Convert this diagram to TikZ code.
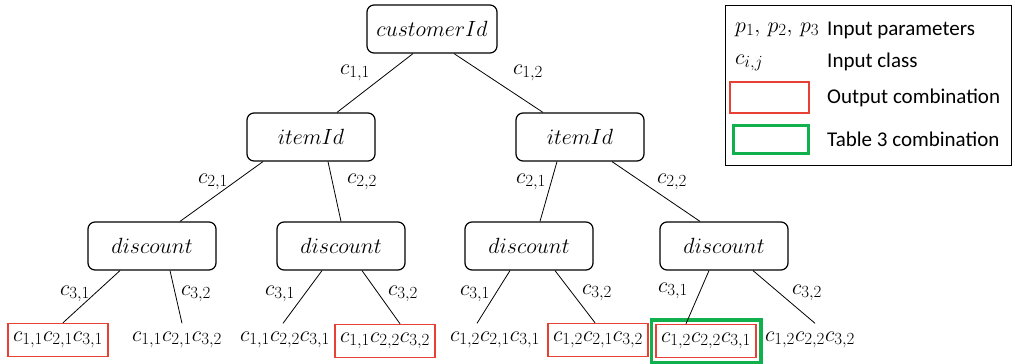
\RequirePackage{fix-cm}
\documentclass[tikz,border=0pt]{standalone}
\usepackage{fontspec}
\setmainfont{Carlito}
\usetikzlibrary{calc}
\DeclareMathSizes{22}{22}{17}{13}
\definecolor{outred}{RGB}{232,64,52}
\definecolor{tabgreen}{RGB}{16,176,76}
\tikzset{
  param/.style={draw, rounded corners=7pt, line width=1.2pt, minimum width=128pt,
                minimum height=48pt, inner sep=0pt, font=\fontsize{22}{26}\selectfont},
  leaf/.style={minimum width=100pt, minimum height=33pt, inner sep=0pt,
               font=\fontsize{22}{26}\selectfont},
  outbox/.style={draw=outred, line width=1.5pt},
  tabbox/.style={draw=tabgreen, line width=3.5pt},
  branch/.style={line width=0.8pt},
  cls/.style={font=\fontsize{22}{26}\selectfont, inner sep=0pt},
  legtext/.style={font=\fontsize{21}{25}\selectfont, anchor=west, inner sep=0pt}
}
\begin{document}
\begin{tikzpicture}[x=1pt,y=-1pt]
\useasboundingbox (0,0) rectangle (1015,364);

% parameter nodes
\node[param, minimum width=130pt] (root) at (432,29) {$customerId$};
\node[param] (iL) at (311,137) {$itemId$};
\node[param] (iR) at (580,137) {$itemId$};
\node[param] (d1) at (152,246) {$discount$};
\node[param] (d2) at (341,246) {$discount$};
\node[param] (d3) at (529,246) {$discount$};
\node[param] (d4) at (724,246) {$discount$};

% leaf combinations
\node[leaf, outbox] (l1) at (58,340) {$c_{1,1}c_{2,1}c_{3,1}$};
\node[leaf] (l2) at (177,340) {$c_{1,1}c_{2,1}c_{3,2}$};
\node[leaf] (l3) at (285,340) {$c_{1,1}c_{2,2}c_{3,1}$};
\node[leaf, outbox] (l4) at (385,341) {$c_{1,1}c_{2,2}c_{3,2}$};
\node[leaf] (l5) at (495,340) {$c_{1,2}c_{2,1}c_{3,1}$};
\node[leaf, outbox] (l6) at (598,340) {$c_{1,2}c_{2,1}c_{3,2}$};
\node[leaf, outbox] (l7) at (706,341) {$c_{1,2}c_{2,2}c_{3,1}$};
\node[leaf] (l8) at (810,340) {$c_{1,2}c_{2,2}c_{3,2}$};
\draw[tabbox] ([shift={(-4,-4)}]l7.north west) rectangle ([shift={(4,4)}]l7.south east);

% branches
\draw[branch] ([xshift=-19]root.south) -- ([xshift=26]iL.north);
\draw[branch] ([xshift=22]root.south) -- ([xshift=-37]iR.north);
\draw[branch] ([xshift=-48]iL.south) -- ([xshift=28]d1.north);
\draw[branch] ([xshift=17]iL.south) -- ([xshift=0]d2.north);
\draw[branch] ([xshift=-23]iR.south) -- ([xshift=11]d3.north);
\draw[branch] ([xshift=32]iR.south) -- ([xshift=-24]d4.north);
\draw[branch] ([xshift=-32]d1.south) -- ([xshift=5]l1.north);
\draw[branch] ([xshift=18]d1.south) -- ([xshift=5]l2.north);
\draw[branch] ([xshift=-19]d2.south) -- ([xshift=-2]l3.north);
\draw[branch] ([xshift=21]d2.south) -- ([xshift=15]l4.north);
\draw[branch] ([xshift=-19]d3.south) -- ([xshift=-18]l5.north);
\draw[branch] ([xshift=26]d3.south) -- ([xshift=-3]l6.north);
\draw[branch] ([xshift=-15]d4.south) -- ([xshift=-20]l7.north);
\draw[branch] ([xshift=29]d4.south) -- ([xshift=5]l8.north);

% class labels
\node[cls] (a11) at (355,73) {$c_{1,1}$};
\node[cls] (a12) at (528,73) {$c_{1,2}$};
\node[cls] (b21) at (213,182) {$c_{2,1}$};
\node[cls] (b22) at (362,182) {$c_{2,2}$};
\node[cls] (b23) at (531,182) {$c_{2,1}$};
\node[cls] (b24) at (672,182) {$c_{2,2}$};
\node[cls] (e1) at (75,294) {$c_{3,1}$};
\node[cls] (e2) at (196,294) {$c_{3,2}$};
\node[cls] (e3) at (280,294) {$c_{3,1}$};
\node[cls] (e4) at (403,294) {$c_{3,2}$};
\node[cls] (e5) at (475,294) {$c_{3,1}$};
\node[cls] (e6) at (597,293) {$c_{3,2}$};
\node[cls] (e7) at (673,291) {$c_{3,1}$};
\node[cls] (e8) at (807,293) {$c_{3,2}$};

% legend
\node[draw, line width=1pt, minimum width=286pt, minimum height=160pt, inner sep=0pt,
      anchor=north west] (legend) at (725,5) {};
\node[cls, anchor=west] (kp) at (735,30) {$p_1,\,p_2,\,p_3$};
\node[legtext] (tp) at (827,30) {Input parameters};
\node[cls, anchor=west] (kc) at (735,63) {$c_{i,j}$};
\node[legtext] (tc) at (827,62) {Input class};
\node[outbox, minimum width=79pt, minimum height=31pt, inner sep=0pt] (kr) at (769.5,97.5) {};
\node[legtext] (tr) at (827,98) {Output combination};
\node[tabbox, minimum width=75pt, minimum height=28pt, inner sep=0pt] (kg) at (771,139.5) {};
\node[legtext] (tg) at (827,139) {Table 3 combination};
\end{tikzpicture}
\end{document}
